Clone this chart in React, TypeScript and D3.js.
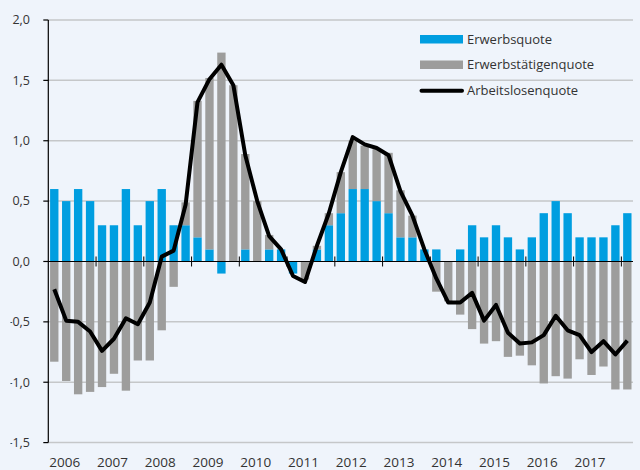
import React from "react";
import * as d3 from "d3";

const years = ["2006","2007","2008","2009","2010","2011","2012","2013","2014","2015","2016","2017"];
const quarters: string[] = [];
for (let yr = 2006; yr <= 2017; yr++) for (let q = 1; q <= 4; q++) quarters.push(`${yr}Q${q}`);
quarters.push("2018Q1");

const erwerbsquote = [
  0.6, 0.5, 0.6, 0.5, 0.3, 0.3, 0.6, 0.3, 0.5, 0.6, 0.3, 0.3,
  0.2, 0.1, -0.1, 0, 0.1, 0, 0.1, 0.1, -0.1, 0, 0.1, 0.3,
  0.4, 0.6, 0.6, 0.5, 0.4, 0.2, 0.2, 0.1, 0.1, 0, 0.1, 0.3,
  0.2, 0.3, 0.2, 0.1, 0.2, 0.4, 0.5, 0.4, 0.2, 0.2, 0.2, 0.3, 0.4,
];
const erwerbstaetigenquote = [
  -0.83, -0.99, -1.1, -1.08, -1.04, -0.93, -1.07, -0.82, -0.82, -0.57, -0.21, 0.19,
  1.13, 1.42, 1.73, 1.46, 0.79, 0.5, 0.12, 0, 0, -0.15, 0.03, 0.1,
  0.34, 0.4, 0.36, 0.43, 0.5, 0.39, 0.18, 0, -0.25, -0.33, -0.44, -0.56,
  -0.68, -0.66, -0.79, -0.78, -0.86, -1.01, -0.95, -0.97, -0.81, -0.94, -0.87, -1.06, -1.06,
];
const arbeitslosenquote = [
  -0.23, -0.49, -0.5, -0.58, -0.74, -0.64, -0.47, -0.52, -0.34, 0.04, 0.09, 0.47,
  1.32, 1.51, 1.63, 1.46, 0.88, 0.5, 0.21, 0.1, -0.12, -0.17, 0.13, 0.4,
  0.74, 1.03, 0.97, 0.94, 0.88, 0.58, 0.38, 0.1, -0.14, -0.34, -0.34, -0.26,
  -0.49, -0.36, -0.59, -0.68, -0.67, -0.61, -0.45, -0.57, -0.61, -0.75, -0.66, -0.77, -0.655,
];
const yTicks = [-1.5, -1, -0.5, 0, 0.5, 1, 1.5, 2];
const seriesNames = ["Erwerbsquote", "Erwerbstätigenquote", "Arbeitslosenquote"];

const W = 640, H = 470;
const BG = "#EFF4FB";
const BLUE = "#009EE0";
const GREY = "#9D9D9C";
const GRID = "#C5C7C9";
const TEXT = "#333333";
const FONT = "'Open Sans', 'Noto Sans', sans-serif";

export default function App() {
  const x = d3.scaleBand<string>().domain(quarters).range([48.3, 633.3]).paddingInner(0.3).paddingOuter(0.15);
  const y = d3.scaleLinear().domain([-1.5, 2.0]).range([442.6, 20]);
  const x0 = 48.3, x1 = 633;

  const table = quarters.map((q, i) => ({ q, e: erwerbsquote[i], t: erwerbstaetigenquote[i] }));
  const stack = d3.stack<any>().keys(["e", "t"]).offset(d3.stackOffsetDiverging);
  const layers = stack(table);
  const colors = [BLUE, GREY];

  const boundary = (q: string) => (x(q) as number) + x.bandwidth() / 2 - x.step() / 2;
  const center = (q: string) => (x(q) as number) + x.bandwidth() / 2;

  const line = d3.line<number>()
    .x((_, i) => center(quarters[i]))
    .y((d) => y(d));

  const fmt = (v: number) => d3.format(".1f")(v).replace(".", ",").replace("\u2212", "-");

  const yearTicks = quarters.filter((q, i) => i > 0 && q.endsWith("Q1"));

  return (
    <svg width={W} height={H} style={{ position: "absolute", left: 0, top: 0, display: "block" }} fontFamily={FONT}>
      <defs>
        <clipPath id="lblclip">
          <rect x={10.5} y={0} width={W} height={H} />
        </clipPath>
      </defs>
      <rect x={0} y={0} width={W} height={H} fill={BG} />
      {yTicks.filter((t) => t !== 0).map((t) => (
        <line key={t} x1={x0} x2={x1} y1={y(t)} y2={y(t)} stroke={GRID} strokeWidth={1.5} />
      ))}
      {layers.map((layer, li) => (
        <g key={li} fill={colors[li]}>
          {layer.map((d: any, i: number) => {
            const top = y(Math.max(d[0], d[1]));
            const bot = y(Math.min(d[0], d[1]));
            if (bot - top < 0.01) return null;
            return <rect key={i} x={x(quarters[i])} y={top} width={x.bandwidth()} height={bot - top} />;
          })}
        </g>
      ))}
      <line x1={x0} x2={x1} y1={y(0)} y2={y(0)} stroke="#000" strokeWidth={1.2} />
      {yearTicks.map((q) => (
        <line key={q} x1={boundary(q)} x2={boundary(q)} y1={y(0) - 5} y2={y(0) + 5} stroke="#000" strokeWidth={1} />
      ))}
      <path d={line(arbeitslosenquote) || ""} fill="none" stroke="#000" strokeWidth={4} strokeLinejoin="round" />
      <line x1={x0} x2={x0} y1={y(2)} y2={y(-1.5)} stroke="#000" strokeWidth={1.2} />
      {yTicks.map((t) => (
        <line key={t} x1={x0 - 5} x2={x0} y1={y(t)} y2={y(t)} stroke="#000" strokeWidth={1.2} />
      ))}
      <g clipPath="url(#lblclip)">
        {yTicks.map((t) => (
          <text key={t} x={30} y={y(t)} dy="0.35em" textAnchor="end" fontSize={12.5} fill={TEXT}>
            {fmt(t)}
          </text>
        ))}
      </g>
      {years.map((yr) => (
        <text key={yr} x={boundary(`${yr}Q1`) + 1} y={467} fontSize={13.5} fill={TEXT}>
          {yr}
        </text>
      ))}
      <g fontSize={13} fill={TEXT}>
        <rect x={420} y={35} width={43} height={8.5} fill={BLUE} />
        <text x={467} y={43.5}>{seriesNames[0]}</text>
        <rect x={420} y={60.5} width={43} height={8.5} fill={GREY} />
        <text x={467} y={69.3}>{seriesNames[1]}</text>
        <line x1={421.5} x2={462} y1={90.7} y2={90.7} stroke="#000" strokeWidth={4} strokeLinecap="round" />
        <text x={467} y={95}>{seriesNames[2]}</text>
      </g>
    </svg>
  );
}
